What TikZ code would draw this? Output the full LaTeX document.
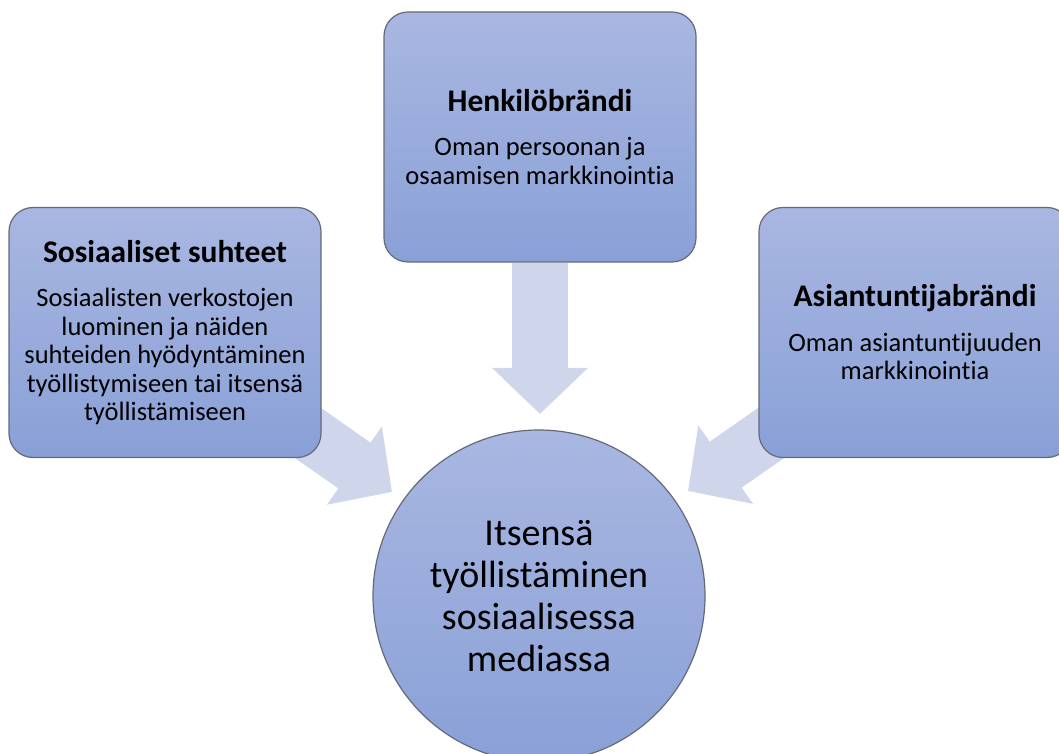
\documentclass[tikz,border=0pt]{standalone}
\usepackage{fontspec}
\setmainfont{Carlito}[Ligatures=NoCommon]
\usetikzlibrary{arrows.meta,backgrounds}

\definecolor{boxtop}{RGB}{169,183,225}
\definecolor{boxbot}{RGB}{137,160,215}
\definecolor{boxline}{RGB}{100,106,120}
\definecolor{arrowfill}{RGB}{207,214,235}

\tikzset{
  card/.style={draw=boxline, line width=1.2pt, rounded corners=24pt,
    top color=boxtop, bottom color=boxbot,
    minimum width=312pt, minimum height=250pt, inner sep=0pt,
    align=center, font=\fontsize{26.5}{28.5}\selectfont},
  hubcircle/.style={circle, draw=boxline, line width=1.2pt,
    top color=boxtop, bottom color=boxbot,
    minimum size=332pt, inner sep=0pt,
    align=center, font=\fontsize{38}{42}\selectfont},
  bigarrow/.style={draw=arrowfill, fill=arrowfill, line width=56pt,
    -{Triangle[width=93pt,length=46pt]}}
}
\newcommand{\cardhead}[1]{{\fontsize{31.5}{32}\selectfont\bfseries #1}}

\begin{document}
\begin{tikzpicture}[x=1pt,y=1pt]

\useasboundingbox (0,0) rectangle (1059,753);
\clip (0,0) rectangle (1059,753);

%draw the three boxes
\node[card] (brand) at (540,616)
  {\cardhead{Henkilöbrändi}\\[16pt]Oman persoonan ja\\osaamisen markkinointia};
\node[card] (social) at (165,420.5)
  {\cardhead{Sosiaaliset suhteet}\\[16pt]Sosiaalisten verkostojen\\luominen ja näiden\\suhteiden hyödyntäminen\\työllistymiseen tai itsensä\\työllistämiseen};
\node[card] (expert) at (915,420.5)
  {\cardhead{Asiantuntijabrändi}\\[16pt]Oman asiantuntijuuden\\markkinointia};

%draw the circle
\node[hubcircle] (hub) at (539,157)
  {Itsensä\\työllistäminen\\sosiaalisessa\\mediassa};

%arrow tips
\coordinate (brandtip) at (540,339);
\coordinate (socialtip) at (392,261);
\coordinate (experttip) at (688,262);

%draw arrows behind the boxes
\begin{scope}[on background layer]
\draw[bigarrow] (brand.south) -- (brandtip);
\draw[bigarrow] (social.center) -- (socialtip);
\draw[bigarrow] (expert.center) -- (experttip);
\end{scope}

\end{tikzpicture}
\end{document}
